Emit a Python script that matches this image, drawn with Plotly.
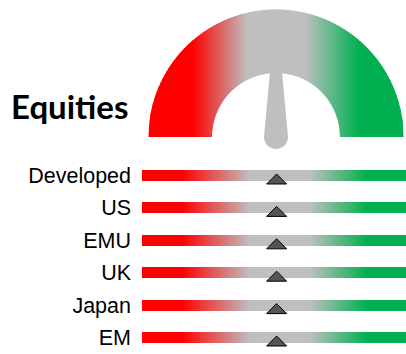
import numpy as np
import plotly.graph_objects as go

# ---------------- data ----------------
categories = ["Developed", "US", "EMU", "UK", "Japan", "EM"]
bar_values = [51, 51, 51, 51, 51, 51]      # marker position on a 0-100 scale
gauge_value = 50                            # needle position on a 0-100 scale
title_text = "Equities"

# ---------------- styles / geometry ----------------
W, H = 406, 354
RED, GRAY, GREEN = (255, 0, 0), (191, 191, 191), (0, 176, 80)
CX, CY, R_OUT, R_IN = 276, 137, 127.5, 64      # gauge centre and radii (px)
G_BOTTOM = 160                                 # bottom of gauge area (px)
BAR_LEFT = 142                                 # left edge of bars (px)
ROW0, ROW_PX, BAR_PX = 175.5, 32.4, 11         # bar rows (px)
LABEL_FONT = dict(family="Liberation Sans", size=21.5, color="black")


def interp(pos, stops):
    for (p0, c0), (p1, c1) in zip(stops[:-1], stops[1:]):
        if p0 <= pos <= p1:
            t = 0 if p1 == p0 else (pos - p0) / (p1 - p0)
            return tuple(int(round(a + (b - a) * t)) for a, b in zip(c0, c1))
    return stops[-1][1] if pos > stops[-1][0] else stops[0][1]


def rgb(c):
    return "rgb(%d,%d,%d)" % c


fig = go.Figure()
shapes = []

# ---------------- gauge (axis x / y, 1 unit = R_OUT px) ----------------
s = R_OUT
r = R_IN / R_OUT
gauge_stops = [(-1e9, RED), (-83.5, RED), (-28.5, GRAY), (28.5, GRAY),
               (83.5, GREEN), (1e9, GREEN)]
edges = np.linspace(-1, 1, 129)
step = edges[1] - edges[0]
for a, b in zip(edges[:-1], edges[1:]):
    b2 = min(b + 0.6 * step, 1.0)
    xs = list(np.linspace(a, b2, 6))
    for extra in (-r, r):
        if a < extra < b2:
            xs.append(extra)
    xs = sorted(xs)
    top = [np.sqrt(max(1 - x * x, 0)) for x in xs]
    bot = [np.sqrt(max(r * r - x * x, 0)) for x in xs]
    pts = [(xs[0], bot[0])] + list(zip(xs, top)) + list(zip(xs[::-1], bot[::-1]))
    path = "M" + " L".join("%.5f,%.5f" % p for p in pts) + " Z"
    col = interp((a + b) / 2 * R_OUT, gauge_stops)
    shapes.append(dict(type="path", xref="x", yref="y", path=path,
                       fillcolor=rgb(col), line=dict(width=0), layer="above"))

# needle (pixel-sized, anchored at gauge centre)
theta = np.pi * (1 - gauge_value / 100.0)
d = np.array([np.cos(theta), np.sin(theta)])
p = np.array([-np.sin(theta), np.cos(theta)])
NL, TIP_HW, BASE_R = 65, 6, 12
pts = [NL * d - TIP_HW * p, NL * d + TIP_HW * p]
for ang in np.linspace(0, np.pi, 25):
    pts.append(BASE_R * (np.cos(ang) * p - np.sin(ang) * d))
path = "M" + " L".join("%.2f,%.2f" % (q[0], q[1]) for q in pts) + " Z"
shapes.append(dict(type="path", xref="x", yref="y", xsizemode="pixel",
                   ysizemode="pixel", xanchor=0, yanchor=0, path=path,
                   fillcolor=rgb(GRAY), line=dict(width=0), layer="above"))

fig.add_trace(go.Scatter(x=[0], y=[0], mode="markers", marker=dict(opacity=0),
                         hoverinfo="skip", showlegend=False, xaxis="x", yaxis="y"))

# ---------------- bars (axis x2 / y2) ----------------
n = len(categories)
nx = 264
xe = np.linspace(0, 100, nx + 1)
xc = (xe[:-1] + xe[1:]) / 2
h = BAR_PX / 2 / ROW_PX
ye, z = [], []
for i in range(n):
    ye += [i - h, i + h]
    z.append(list(xc))
    if i < n - 1:
        z.append([None] * nx)
bar_scale = [[0, rgb(RED)], [0.15, rgb(RED)], [0.41, rgb(GRAY)], [0.636, rgb(GRAY)],
             [0.852, rgb(GREEN)], [1, rgb(GREEN)]]
fig.add_trace(go.Heatmap(x=xe, y=ye, z=z, zmin=0, zmax=100, colorscale=bar_scale,
                         showscale=False, hoverinfo="skip", xaxis="x2", yaxis="y2"))

for i, v in enumerate(bar_values):
    shapes.append(dict(type="path", xref="x2", yref="y2", xsizemode="pixel",
                       ysizemode="pixel", xanchor=v, yanchor=i,
                       path="M0,1.5 L10,-8.5 L-10,-8.5 Z",
                       fillcolor="#555555", line=dict(color="black", width=1),
                       layer="above"))

top_px = ROW0 - ROW_PX / 2
bot_px = top_px + n * ROW_PX

fig.update_layout(
    width=W, height=H, margin=dict(l=0, r=0, t=0, b=0),
    paper_bgcolor="white", plot_bgcolor="rgba(0,0,0,0)", showlegend=False,
    xaxis=dict(domain=[0, 1], range=[-CX / s, (W - CX) / s], visible=False, fixedrange=True),
    yaxis=dict(domain=[(H - G_BOTTOM) / H, 1], range=[(CY - G_BOTTOM) / s, CY / s],
               visible=False, fixedrange=True),
    xaxis2=dict(domain=[BAR_LEFT / W, 1], range=[0, 100], visible=False, anchor="y2"),
    yaxis2=dict(domain=[max(0, (H - bot_px) / H), (H - top_px) / H], range=[n - 0.5, -0.5],
                anchor="x2", tickmode="array", tickvals=list(range(n)), ticktext=categories,
                ticks="", showgrid=False, zeroline=False, showline=False,
                tickfont=LABEL_FONT, ticklabelstandoff=10),
    shapes=shapes,
    annotations=[dict(text="<b>%s</b>" % title_text, x=9 / W, y=(H - 106) / H,
                      xref="paper", yref="paper", xanchor="left", yanchor="middle",
                      showarrow=False, font=dict(family="Lato", size=33, color="black"))],
)

fig.write_html("out.html")
